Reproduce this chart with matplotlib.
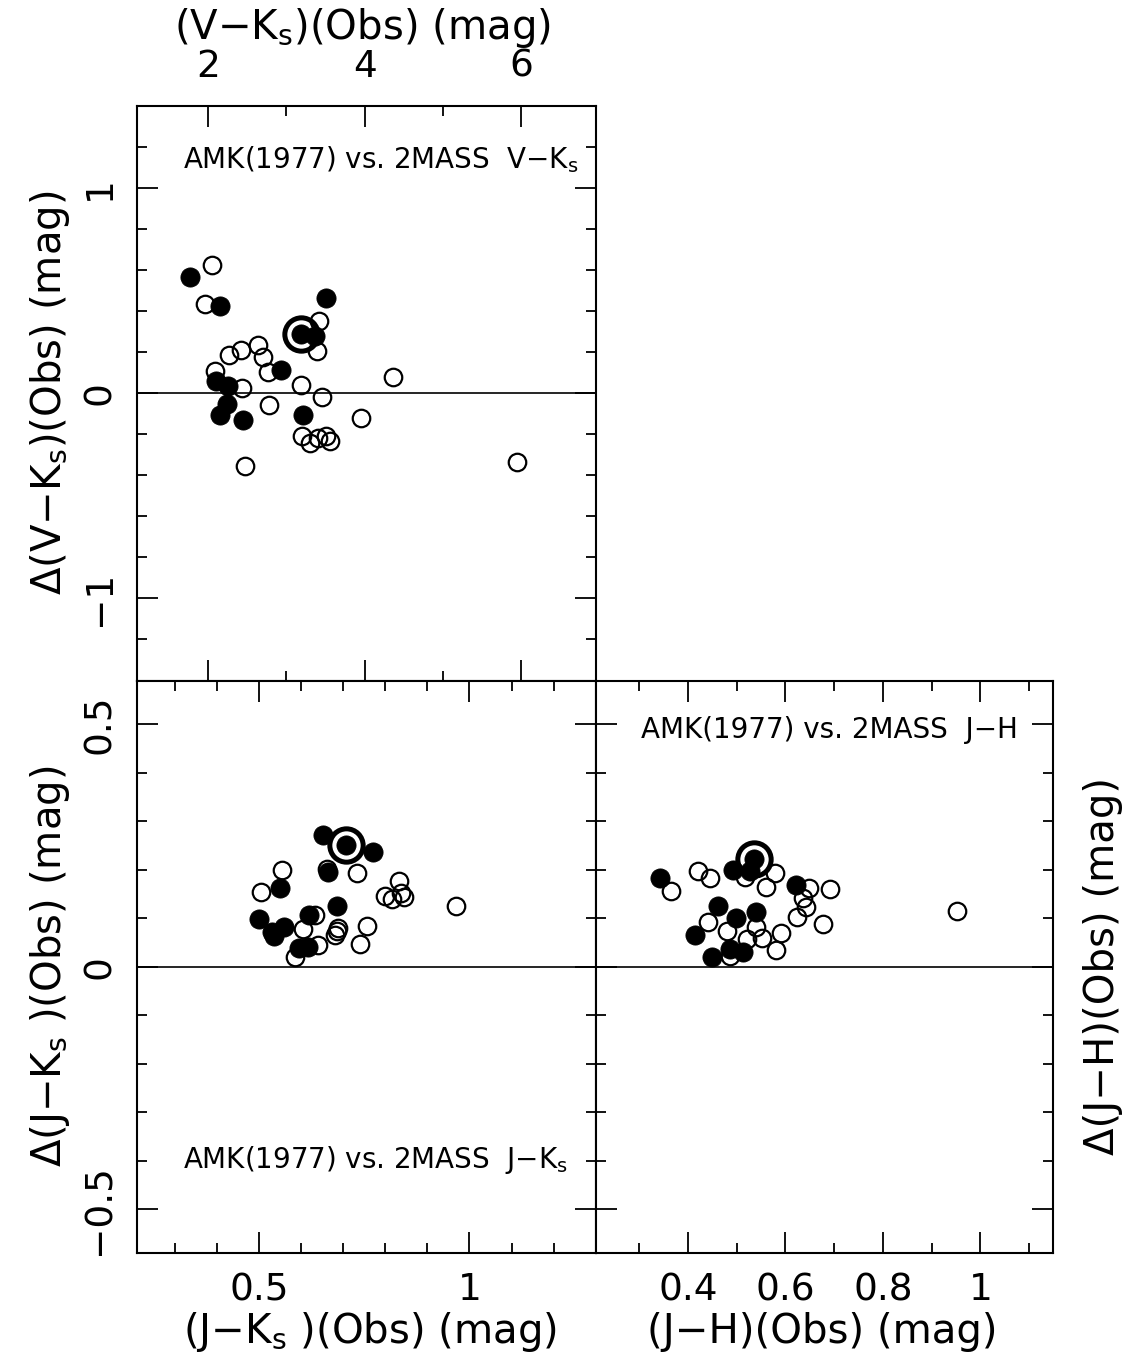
import matplotlib
matplotlib.use('Agg')
import matplotlib.pyplot as plt
from matplotlib.ticker import MultipleLocator, FuncFormatter

# ---------------- data ----------------
# Top panel: V-Ks (Obs) vs Delta(V-Ks)
vk_open_x = [2.05, 1.96, 3.42, 3.39, 2.27, 2.42, 2.64, 2.70, 2.09, 2.76, 2.43, 3.18,
             3.46, 2.78, 4.36, 3.95, 3.20, 3.30, 3.40, 3.50, 3.56, 2.47, 5.95]
vk_open_y = [0.623, 0.433, 0.352, 0.203, 0.187, 0.211, 0.234, 0.174, 0.106, 0.101, 0.024, 0.039,
             -0.018, -0.057, 0.076, -0.123, -0.208, -0.243, -0.221, -0.208, -0.232, -0.354, -0.337]
vk_fill_x = [1.77, 2.145, 3.51, 3.37, 2.93, 2.10, 2.25, 2.24, 2.145, 2.45, 3.21]
vk_fill_y = [0.563, 0.425, 0.461, 0.279, 0.113, 0.060, 0.036, -0.054, -0.105, -0.131, -0.105]
vk_star_x = [3.19]
vk_star_y = [0.287]

# Bottom-left panel: J-Ks (Obs) vs Delta(J-Ks)
jk_open_x = [0.554, 0.505, 0.661, 0.732, 0.833, 0.799, 0.817, 0.837, 0.845, 0.969, 0.633,
             0.605, 0.756, 0.688, 0.685, 0.682, 0.740, 0.640, 0.587]
jk_open_y = [0.200, 0.155, 0.201, 0.193, 0.177, 0.145, 0.140, 0.152, 0.144, 0.125, 0.106,
             0.077, 0.085, 0.080, 0.073, 0.066, 0.047, 0.044, 0.020]
jk_fill_x = [0.653, 0.770, 0.665, 0.550, 0.685, 0.501, 0.619, 0.560, 0.536, 0.531, 0.596, 0.617]
jk_fill_y = [0.271, 0.237, 0.196, 0.162, 0.126, 0.098, 0.107, 0.081, 0.063, 0.071, 0.038, 0.040]
jk_star_x = [0.707]
jk_star_y = [0.251]

# Bottom-right panel: J-H (Obs) vs Delta(J-H)
jh_open_x = [0.365, 0.420, 0.446, 0.517, 0.578, 0.560, 0.649, 0.692, 0.637, 0.642, 0.624,
             0.678, 0.441, 0.481, 0.539, 0.591, 0.522, 0.552, 0.581, 0.486, 0.953]
jh_open_y = [0.157, 0.198, 0.183, 0.184, 0.193, 0.165, 0.163, 0.161, 0.141, 0.124, 0.102,
             0.089, 0.093, 0.074, 0.081, 0.069, 0.057, 0.060, 0.035, 0.023, 0.114]
jh_fill_x = [0.342, 0.493, 0.527, 0.622, 0.461, 0.498, 0.539, 0.415, 0.486, 0.513, 0.449]
jh_fill_y = [0.182, 0.199, 0.198, 0.168, 0.126, 0.100, 0.112, 0.065, 0.036, 0.031, 0.021]
jh_star_x = [0.536]
jh_star_y = [0.223]

vk_xlim = (1.09, 6.95)
vk_ylim = (-1.40, 1.40)
jk_xlim = (0.211, 1.299)
jh_xlim = (0.2105, 1.149)
d_ylim = (-0.59, 0.59)

# ---------------- figure ----------------
W, H = 1135, 1365
fig = plt.figure(figsize=(W / 100, H / 100), dpi=100)
plt.rcParams['font.family'] = ['DejaVu Sans']
plt.rcParams['mathtext.fontset'] = 'dejavusans'

def rect(x0, y0, x1, y1):
    return [x0 / W, 1 - y1 / H, (x1 - x0) / W, (y1 - y0) / H]

XL, XM, XR = 137, 595.5, 1053
YT, YM, YB = 105.5, 680.5, 1253

ax1 = fig.add_axes(rect(XL, YT, XM, YM))
ax2 = fig.add_axes(rect(XL, YM, XM, YB))
ax3 = fig.add_axes(rect(XM, YM, XR, YB))

fmt = FuncFormatter(lambda v, p: f'{v:g}'.replace('-', '\u2212'))
TICKFS = 27
LABFS = 29
ANNFS = 20

def style(ax):
    for s in ax.spines.values():
        s.set_linewidth(1.5)
    ax.tick_params(which='both', direction='in', top=True, bottom=True, left=True, right=True,
                   width=1.3, labelsize=TICKFS)
    ax.tick_params(which='major', length=15)
    ax.tick_params(which='minor', length=7.5)
    ax.xaxis.set_major_formatter(fmt)
    ax.yaxis.set_major_formatter(fmt)
    ax.axhline(0, color='black', lw=1.2, zorder=1)

def points(ax, ox, oy, fx, fy, sx, sy):
    ax.plot(ox, oy, 'o', ms=12.6, mfc='none', mec='black', mew=1.6, ls='none', zorder=3)
    ax.plot(fx, fy, 'o', ms=13.8, mfc='black', mec='black', mew=0.6, ls='none', zorder=4)
    ax.plot(sx, sy, 'o', ms=24, mfc='none', mec='black', mew=3.6, ls='none', zorder=5)
    ax.plot(sx, sy, 'o', ms=13.8, mfc='black', mec='black', mew=0.6, ls='none', zorder=5)

# top-left
style(ax1)
points(ax1, vk_open_x, vk_open_y, vk_fill_x, vk_fill_y, vk_star_x, vk_star_y)
ax1.set_xlim(*vk_xlim)
ax1.set_ylim(*vk_ylim)
ax1.xaxis.set_major_locator(MultipleLocator(2))
ax1.xaxis.set_minor_locator(MultipleLocator(1))
ax1.yaxis.set_major_locator(MultipleLocator(1))
ax1.yaxis.set_minor_locator(MultipleLocator(0.2))
ax1.tick_params(axis='x', labeltop=True, labelbottom=False, pad=15)
ax1.tick_params(axis='y', labelleft=True, labelright=False, labelrotation=90, pad=14)
for t in ax1.get_yticklabels():
    t.set_va('center')

# bottom-left
style(ax2)
points(ax2, jk_open_x, jk_open_y, jk_fill_x, jk_fill_y, jk_star_x, jk_star_y)
ax2.set_xlim(*jk_xlim)
ax2.set_ylim(*d_ylim)
ax2.xaxis.set_major_locator(MultipleLocator(0.5))
ax2.xaxis.set_minor_locator(MultipleLocator(0.1))
ax2.yaxis.set_major_locator(MultipleLocator(0.5))
ax2.yaxis.set_minor_locator(MultipleLocator(0.1))
ax2.tick_params(axis='x', labeltop=False, labelbottom=True, pad=14)
ax2.tick_params(axis='y', labelleft=True, labelright=False, labelrotation=90, pad=14)
for t in ax2.get_yticklabels():
    t.set_va('center')

# bottom-right
style(ax3)
points(ax3, jh_open_x, jh_open_y, jh_fill_x, jh_fill_y, jh_star_x, jh_star_y)
ax3.set_xlim(*jh_xlim)
ax3.set_ylim(*d_ylim)
ax3.xaxis.set_major_locator(MultipleLocator(0.2))
ax3.xaxis.set_minor_locator(MultipleLocator(0.1))
ax3.yaxis.set_major_locator(MultipleLocator(0.5))
ax3.yaxis.set_minor_locator(MultipleLocator(0.1))
ax3.tick_params(axis='x', labeltop=False, labelbottom=True, pad=14)
ax3.tick_params(axis='y', labelleft=False, labelright=False)

# ---------------- text ----------------
def ftext(x, y, s, **kw):
    fig.text(x / W, 1 - y / H, s, **kw)

S = r'$_{\rm s}$'
ftext(362, 28, '(V\u2212K' + S + ')(Obs) (mag)', ha='center', va='center', fontsize=LABFS)
ftext(370, 1332, '(J\u2212K' + S + ' )(Obs) (mag)', ha='center', va='center', fontsize=LABFS)
ftext(822, 1332, '(J\u2212H)(Obs) (mag)', ha='center', va='center', fontsize=LABFS)
ftext(50, 393, '\u0394(V\u2212K' + S + ')(Obs) (mag)', ha='center', va='center',
      rotation=90, fontsize=LABFS)
ftext(50, 966, '\u0394(J\u2212K' + S + ' )(Obs) (mag)', ha='center', va='center',
      rotation=90, fontsize=LABFS)
ftext(1103, 966, '\u0394(J\u2212H)(Obs) (mag)', ha='center', va='center',
      rotation=90, fontsize=LABFS)

ftext(183, 160, 'AMK(1977) vs. 2MASS  V\u2212K' + S, ha='left', va='center', fontsize=ANNFS)
ftext(183, 1160, 'AMK(1977) vs. 2MASS  J\u2212K' + S, ha='left', va='center', fontsize=ANNFS)
ftext(641, 730, 'AMK(1977) vs. 2MASS  J\u2212H', ha='left', va='center', fontsize=ANNFS)

fig.savefig('out.png', dpi=100)
